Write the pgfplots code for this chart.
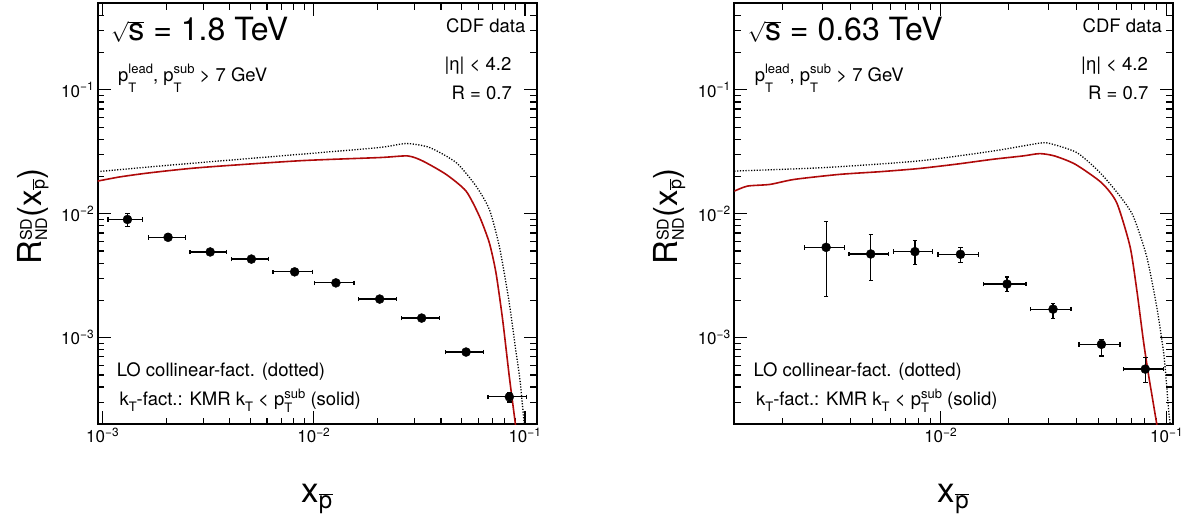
\documentclass[border=0pt]{standalone}
\usepackage{fontspec}
\setmainfont{TeX Gyre Heros}
\usepackage{pgfplots}
\usepackage{pgfplotstable}
\pgfplotsset{compat=1.18}
\definecolor{rootred}{RGB}{175,10,10}
\newcommand\fs[1]{\fontsize{#1}{#1}\selectfont}
% p with superscript #1 raised #2 and subscript T lowered #3
\newcommand\pT[3]{p\rlap{\raisebox{-#3pt}{\fs{13}T}}\raisebox{#2pt}{\fs{13}#1}}
\newcommand\kT{k\raisebox{-6pt}{\fs{13}T}}
\newcommand\rs{{\fs{22}$\sqrt{\mbox{\fs{32}s}}$}}

\pgfplotstableread{
x y exm exp eym eyp
1.31e-3 9.0e-3 0.25e-3 0.235e-3 1.1e-3 1.0e-3
2.04e-3 6.46e-3 0.397e-3 0.418e-3 0.4e-3 0.4e-3
3.23e-3 4.92e-3 0.64e-3 0.62e-3 0.2e-3 0.2e-3
5.06e-3 4.31e-3 0.99e-3 1.04e-3 0.15e-3 0.15e-3
8.11e-3 3.40e-3 1.70e-3 1.73e-3 0.12e-3 0.12e-3
1.272e-2 2.77e-3 2.63e-3 2.77e-3 0.1e-3 0.1e-3
2.05e-2 2.05e-3 4.16e-3 4.1e-3 0.08e-3 0.08e-3
3.24e-2 1.44e-3 6.4e-3 7.0e-3 0.06e-3 0.06e-3
5.26e-2 7.66e-4 10.6e-3 11.1e-3 0.04e-3 0.04e-3
8.43e-2 3.33e-4 17.5e-3 17.7e-3 0.3e-4 0.3e-4
}\dataA

\pgfplotstableread{
x y exm exp eym eyp
3.11e-3 5.36e-3 0.62e-3 0.635e-3 3.21e-3 3.35e-3
4.9e-3 4.74e-3 0.97e-3 0.96e-3 1.86e-3 2.05e-3
7.69e-3 4.95e-3 1.52e-3 1.53e-3 1.04e-3 1.15e-3
1.222e-2 4.71e-3 2.49e-3 2.5e-3 0.65e-3 0.65e-3
1.965e-2 2.71e-3 4.22e-3 4.2e-3 0.35e-3 0.38e-3
3.14e-2 1.70e-3 6.4e-3 6.3e-3 0.274e-3 0.186e-3
5.14e-2 8.84e-4 10.5e-3 10.7e-3 1.73e-4 0.8e-4
8.04e-2 5.58e-4 15.9e-3 16.2e-3 1.23e-4 1.35e-4
}\dataB

\begin{document}
\begin{tikzpicture}[x=1pt,y=1pt]
\useasboundingbox (0,0) rectangle (1187,523);

% ---------------- left panel
\begin{axis}[
    scale only axis, width=439pt, height=421pt,
    anchor=south west, at={(97.7pt,98.7pt)},
    xmode=log, ymode=log, ymin=2e-4, ymax=0.5,
    xmin=9.47e-4, xmax=0.1136,
    axis line style={line width=1.8pt},
    every tick/.style={black, line width=1.2pt},
    major tick length=13pt, minor tick length=6.5pt,
    tick align=inside,
    ytick={1e-3,1e-2,1e-1},
    yticklabels={10\textsuperscript{−3},10\textsuperscript{−2},10\textsuperscript{−1}},
    minor ytick={3e-4,4e-4,5e-4,6e-4,7e-4,8e-4,9e-4,2e-3,3e-3,4e-3,5e-3,6e-3,7e-3,8e-3,9e-3,2e-2,3e-2,4e-2,5e-2,6e-2,7e-2,8e-2,9e-2,2e-1,3e-1,4e-1,5e-1},
    xtick={1e-3,1e-2,1e-1},
    xticklabels={10\textsuperscript{−3},10\textsuperscript{−2},10\textsuperscript{−1}},
    minor xtick={2e-3,3e-3,4e-3,5e-3,6e-3,7e-3,8e-3,9e-3,2e-2,3e-2,4e-2,5e-2,6e-2,7e-2,8e-2,9e-2},
    tick label style={font=\fs{17}},
  ]
\addplot[black, line width=1.3pt, dash pattern=on 1.2pt off 1.6pt, smooth, tension=0.4] coordinates {
(9.47e-4,0.02188) (1.675e-3,0.0239) (2.89e-3,0.0259) (8.57e-3,0.0302)
(0.0205,0.0343) (0.02735,0.0369) (0.0353,0.0343) (0.0472,0.0259)
(0.0586,0.01675) (0.0678,0.01084) (0.0756,5.46e-3) (0.0828,2.29e-3)
(0.0865,1.39e-3) (0.0904,7.94e-4) (0.0947,4.54e-4) (0.0992,2.0e-4) (0.1005,1.5e-4)};
\addplot[rootred, line width=1.6pt, smooth, tension=0.4] coordinates {
(9.47e-4,0.01837) (1.208e-3,0.01986) (1.675e-3,0.02143) (2.89e-3,0.0236)
(8.57e-3,0.0268) (0.0205,0.02844) (0.02785,0.0293) (0.0328,0.02667)
(0.0423,0.0208) (0.0526,0.01524) (0.0608,9.57e-3) (0.0678,5.82e-3)
(0.0729,3.33e-3) (0.0784,1.39e-3) (0.0843,4.83e-4) (0.0900,2.02e-4) (0.0915,1.5e-4)};
\addplot[black, only marks, mark=*, mark size=4.5pt,
    error bars/x dir=both, error bars/x explicit,
    error bars/y dir=both, error bars/y explicit,
    error bars/error bar style={line width=1.2pt, black},
    error bars/error mark options={line width=1.2pt, mark size=2.2pt, black, rotate=90}]
  table[x=x, y=y, x error minus=exm, x error plus=exp,
  y error minus=eym, y error plus=eyp] {\dataA};
\end{axis}

% ---------------- right panel
\begin{axis}[
    scale only axis, width=438.4pt, height=421pt,
    anchor=south west, at={(734.3pt,98.7pt)},
    xmode=log, ymode=log, ymin=2e-4, ymax=0.5,
    xmin=1.22e-3, xmax=0.1063,
    axis line style={line width=1.8pt},
    every tick/.style={black, line width=1.2pt},
    major tick length=13pt, minor tick length=6.5pt,
    tick align=inside,
    ytick={1e-3,1e-2,1e-1},
    yticklabels={10\textsuperscript{−3},10\textsuperscript{−2},10\textsuperscript{−1}},
    minor ytick={3e-4,4e-4,5e-4,6e-4,7e-4,8e-4,9e-4,2e-3,3e-3,4e-3,5e-3,6e-3,7e-3,8e-3,9e-3,2e-2,3e-2,4e-2,5e-2,6e-2,7e-2,8e-2,9e-2,2e-1,3e-1,4e-1,5e-1},
    xtick={1e-2,1e-1},
    xticklabels={10\textsuperscript{−2},10\textsuperscript{−1}},
    minor xtick={2e-3,3e-3,4e-3,5e-3,6e-3,7e-3,8e-3,9e-3,2e-2,3e-2,4e-2,5e-2,6e-2,7e-2,8e-2,9e-2},
    tick label style={font=\fs{17}},
  ]
\addplot[black, line width=1.3pt, dash pattern=on 1.2pt off 1.6pt, smooth, tension=0.4] coordinates {
(1.22e-3,0.02213) (3.05e-3,0.0236) (7.92e-3,0.02667) (0.01702,0.0321)
(0.02742,0.0372) (0.03045,0.0369) (0.04,0.0312) (0.0507,0.02148)
(0.0621,0.0139) (0.0711,9.57e-3) (0.0815,4.53e-3) (0.0903,1.78e-3)
(0.0974,7.02e-4) (0.1017,2.76e-4) (0.1035,2.02e-4) (0.104,1.6e-4)};
\addplot[rootred, line width=1.6pt, smooth, tension=0.4] coordinates {
(1.22e-3,0.01524) (1.396e-3,0.01674) (1.755e-3,0.01727) (2.25e-3,0.01896)
(3.56e-3,0.0208) (5.41e-3,0.02188) (7.92e-3,0.02315) (0.01162,0.0251)
(0.01702,0.02755) (0.02308,0.0293) (0.02742,0.0306) (0.0319,0.0293)
(0.0394,0.0251) (0.0515,0.0178) (0.0601,0.01227) (0.0688,5.46e-3)
(0.0737,2.44e-3) (0.0788,9.58e-4) (0.0829,5.15e-4) (0.0903,2.02e-4) (0.092,1.5e-4)};
\addplot[black, only marks, mark=*, mark size=4.5pt,
    error bars/x dir=both, error bars/x explicit,
    error bars/y dir=both, error bars/y explicit,
    error bars/error bar style={line width=1.2pt, black},
    error bars/error mark options={line width=1.2pt, mark size=2.2pt, black, rotate=90}]
  table[x=x, y=y, x error minus=exm, x error plus=exp,
  y error minus=eym, y error plus=eyp] {\dataB};
\end{axis}

% ---------------- texts, left
\node[anchor=base west, inner sep=0pt, font=\fs{32}] at (111,482) {\rs{} = 1.8 TeV};
\node[anchor=base west, inner sep=0pt, font=\fs{18.5}] at (118,441.3)
  {\pT{lead}{7.7}{11}, \pT{sub}{7.7}{11} > 7 GeV};
\node[anchor=base east, inner sep=0pt, font=\fs{18.5}] at (525.5,490) {CDF data};
\node[anchor=base east, inner sep=0pt, font=\fs{18.5}] at (511.5,452) {|η| < 4.2};
\node[anchor=base east, inner sep=0pt, font=\fs{18.5}] at (512,423) {R = 0.7};
\node[anchor=base west, inner sep=0pt, font=\fs{18.5}] at (116.7,146.3) {LO collinear-fact. (dotted)};
\node[anchor=base west, inner sep=0pt, font=\fs{18.5}] at (119.3,117.3)
  {\kT-fact.: KMR \kT{} < \pT{sub}{7.7}{7} (solid)};
\node[rotate=90, anchor=base west, inner sep=0pt, font=\fs{33}] at (41,258)
  {R$^{\mbox{\fs{16}SD}}_{\mbox{\fs{16}ND}}$(x$_{\overline{\mbox{\fs{18}p}}}$)};
\node[anchor=base, inner sep=0pt, font=\fs{35}] at (317,21) {x$_{\overline{\mbox{\fs{24}p}}}$};

% ---------------- texts, right
\node[anchor=base west, inner sep=0pt, font=\fs{32}] at (747.6,482) {\rs{} = 0.63 TeV};
\node[anchor=base west, inner sep=0pt, font=\fs{18.5}] at (754.6,441.3)
  {\pT{lead}{7.7}{11}, \pT{sub}{7.7}{11} > 7 GeV};
\node[anchor=base east, inner sep=0pt, font=\fs{18.5}] at (1162.1,490) {CDF data};
\node[anchor=base east, inner sep=0pt, font=\fs{18.5}] at (1148.1,452) {|η| < 4.2};
\node[anchor=base east, inner sep=0pt, font=\fs{18.5}] at (1148.6,423) {R = 0.7};
\node[anchor=base west, inner sep=0pt, font=\fs{18.5}] at (753.3,146.3) {LO collinear-fact. (dotted)};
\node[anchor=base west, inner sep=0pt, font=\fs{18.5}] at (755.9,117.3)
  {\kT-fact.: KMR \kT{} < \pT{sub}{7.7}{7} (solid)};
\node[rotate=90, anchor=base west, inner sep=0pt, font=\fs{33}] at (677.6,258)
  {R$^{\mbox{\fs{16}SD}}_{\mbox{\fs{16}ND}}$(x$_{\overline{\mbox{\fs{18}p}}}$)};
\node[anchor=base, inner sep=0pt, font=\fs{35}] at (953.5,21) {x$_{\overline{\mbox{\fs{24}p}}}$};
\end{tikzpicture}
\end{document}
